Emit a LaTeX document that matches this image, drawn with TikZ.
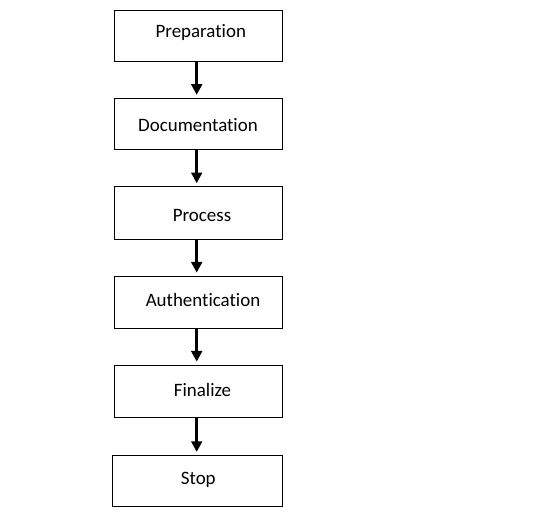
\documentclass[tikz,border=0pt]{standalone}
\usepackage{fontspec}
\setmainfont[RawFeature={-liga}]{Carlito}
\usetikzlibrary{arrows.meta}
\begin{document}
\begin{tikzpicture}[x=0.75pt,y=-0.75pt,
  box/.style={draw=black, line width=0.75pt, minimum width=126.3pt, inner sep=0pt},
  lbl/.style={anchor=base, inner sep=0pt, font=\fontsize{14.2}{16}\selectfont},
  flow/.style={line width=2.25pt, -{Triangle[width=8pt,length=8pt]}, shorten >=2.2pt}]
\useasboundingbox (0,0) rectangle (536,514);
\fill[white] (0,0) rectangle (536,514);
\node[box, minimum height=38.25pt] (b1) at (198.5,35.5) {};
\node[box, minimum height=38.4pt] (b2) at (198.5,123.9) {};
\node[box, minimum height=39.45pt] (b3) at (198.5,213) {};
\node[box, minimum height=39.2pt] (b4) at (198.5,302.2) {};
\node[box, minimum height=39.2pt] (b5) at (198.5,391.2) {};
\node[box, minimum width=127.8pt, minimum height=38pt] (b6) at (197.5,480.7) {};
\node[lbl] (t1) at (200.8,37.7) {Preparation};
\node[lbl] (t2) at (198,131.7) {Documentation};
\node[lbl] (t3) at (202,221) {Process};
\node[lbl] (t4) at (203,306) {Authentication};
\node[lbl] (t5) at (202.5,396.7) {Finalize};
\node[lbl] (t6) at (198.3,484.3) {Stop};
\coordinate (ax) at (196.7,0);
\draw[flow] (b1.south -| ax) -- (b2.north -| ax);
\draw[flow] (b2.south -| ax) -- (b3.north -| ax);
\draw[flow] (b3.south -| ax) -- (b4.north -| ax);
\draw[flow] (b4.south -| ax) -- (b5.north -| ax);
\draw[flow] (b5.south -| ax) -- (b6.north -| ax);
\end{tikzpicture}
\end{document}
